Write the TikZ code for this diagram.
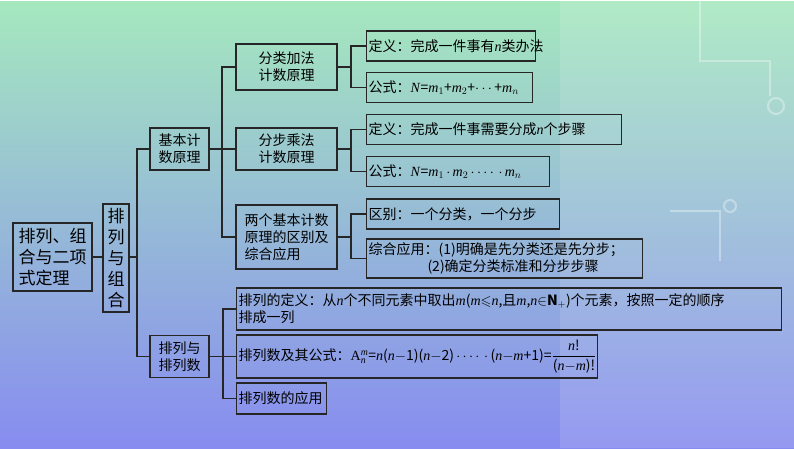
\documentclass[tikz,border=0pt]{standalone}
\usepackage{amsmath,amssymb}
\usepackage{fontspec}
\setmainfont{Liberation Serif}
\newfontfamily\cjk{Noto Sans CJK SC}
\newcommand{\vi}[1]{\textrm{\itshape #1}}
\newcommand{\mdot}{\,$\cdot$\,}
\begin{document}
\begin{tikzpicture}[x=1pt,y=-1pt,
  box/.style={draw=black!85,line width=1.4pt,inner sep=2pt,font=\cjk\fontsize{14}{17}\selectfont},
  mid/.style={box,align=center,minimum width=#1,minimum height=42},
  leaf/.style={box,anchor=west,align=left,text width=#1,minimum height=30},
  link/.style={draw=black!85,line width=1.3pt}]
\shade[top color={rgb,255:red,165;green,232;blue,190},bottom color={rgb,255:red,135;green,140;blue,240}] (0,0) rectangle (794,447);
\fill[white,opacity=0.12] (560,0) rectangle (794,447);
\begin{scope}[white,opacity=0.35,line width=2pt]
\draw (700,0) -- (700,60) -- (770,60) -- (770,95);
\draw (776,105) circle (8);
\draw (670,210) -- (720,210) -- (720,260);
\draw (730,205) circle (6);
\end{scope}
% nodes
\node[box,align=left,font=\cjk\fontsize{17}{21}\selectfont,minimum width=79,minimum height=68] (root) at (52.5,256) {排列、组\\合与二项\\式定理};
\node[box,align=center,font=\cjk\fontsize{17}{21}\selectfont,minimum width=26,minimum height=108] (pz) at (116,257) {排\\列\\与\\组\\合};
\node[mid=59] (jb) at (179.5,148) {基本计\\数原理};
\node[mid=59] (pl) at (179.5,355.5) {排列与\\排列数};
\node[mid=101,minimum height=46] (fl) at (286.5,66) {分类加法\\计数原理};
\node[mid=101] (fb) at (286.5,148) {分步乘法\\计数原理};
\node[box,align=left,minimum width=101,minimum height=64] (lg) at (286.5,236) {两个基本计数\\原理的区别及\\综合应用};
\node[leaf=165] (a1) at (366,45) {定义：完成一件事有\vi{n}类办法};
\node[leaf=162] (a2) at (366,86.5) {公式：\vi{N}=\vi{m}$_1$+\vi{m}$_2$+$\cdots$+\vi{m}$_n$};
\node[leaf=251] (b1) at (366,128.5) {定义：完成一件事需要分成\vi{n}个步骤};
\node[leaf=179] (b2) at (366,170.5) {公式：\vi{N}=\vi{m}$_1$\mdot\vi{m}$_2$\mdot$\cdots$\mdot\vi{m}$_n$};
\node[leaf=189] (c1) at (366,213) {区别：一个分类，一个分步};
\node[leaf=272,minimum height=39] (c2) at (366,257.5) {综合应用：(1)明确是先分类还是先分步；\\\hspace*{4.2em}(2)确定分类标准和分步步骤};
\node[leaf=541,minimum height=42] (d1) at (236,308) {排列的定义：从\vi{n}个不同元素中取出\vi{m}(\vi{m}$\leqslant$\vi{n},且\vi{m},\vi{n}$\in$\textbf{N}$_+$)个元素，按照一定的顺序\\排成一列};
\node[leaf=357,minimum height=43] (d2) at (236,355.5) {排列数及其公式：$\mathrm{A}_{\vi{n}}^{\vi{m}}$=\vi{n}(\vi{n}$-$1)(\vi{n}$-$2)\mdot$\cdots$\mdot(\vi{n}$-$\vi{m}+1)=$\dfrac{\text{\vi{n}!}}{\text{(\vi{n}$-$\vi{m})!}}$};
\node[leaf=86,minimum height=31] (d3) at (236,397.5) {排列数的应用};
% connectors
\draw[link] (root.east) -- (pz.west|-root.east);
\draw[link] (pz.east|-root.east) -- (137,256);
\draw[link] (jb.west) -| (137,256) |- (pl.west);
\draw[link] (jb.east) -- (fb.west);
\draw[link] (fl.west) -| (222,148) |- (lg.west);
\draw[link] (fl.east) -- (351,66);
\draw[link] (a1.west) -| (351,66) |- (a2.west);
\draw[link] (fb.east) -- (351,148);
\draw[link] (b1.west) -| (351,148) |- (b2.west);
\draw[link] (lg.east) -- (351,236);
\draw[link] (c1.west) -| (351,236) |- (c2.west);
\draw[link] (pl.east) -- (223,355.5);
\draw[link] (d1.west) -| (223,355.5) |- (d3.west);
\draw[link] (223,355.5) -- (d2.west);
\end{tikzpicture}
\end{document}
